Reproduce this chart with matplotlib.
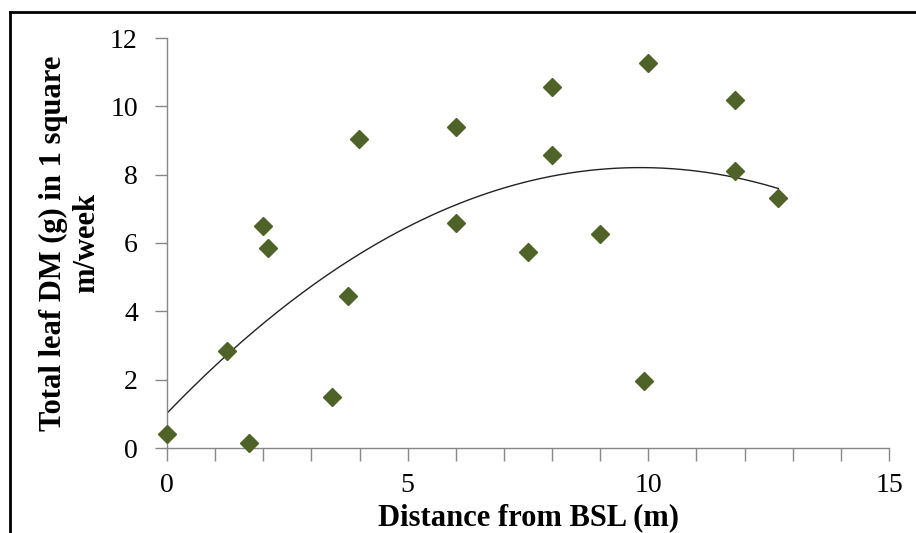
import numpy as np
import matplotlib
matplotlib.use("Agg")
import matplotlib.pyplot as plt
from matplotlib.lines import Line2D
from matplotlib.ticker import MultipleLocator


# -----------------------------
# Data
# -----------------------------
distance_m = [0.0, 1.25, 1.7, 2.0, 2.1, 3.43, 3.76, 3.99, 6.0, 6.0,
              7.5, 8.0, 8.0, 9.0, 10.0, 9.9, 11.8, 11.8, 12.7]
leaf_dm_g = [0.41, 2.84, 0.15, 6.5, 5.85, 1.49, 4.45, 9.04, 9.4, 6.58,
             5.74, 10.56, 8.57, 6.26, 11.27, 1.96, 10.18, 8.11, 7.33]

x_ticks = [0, 5, 10, 15]
y_ticks = [0, 2, 4, 6, 8, 10, 12]

THEME = {
    "marker": "#4F6228",
    "axis":   "#868686",
    "text":   "#000000",
}

plt.rcParams["font.family"] = ["Liberation Serif", "DejaVu Serif"]

fig = plt.figure(figsize=(9.16, 5.33), dpi=100)
ax = fig.add_axes([167 / 916, 1 - 448 / 533, (889 - 167) / 916, (448 - 38) / 533])

# 2nd order polynomial trendline, like Excel's
coef = np.polyfit(distance_m, leaf_dm_g, 2)
xs = np.linspace(min(distance_m), max(distance_m), 200)
ax.plot(xs, np.polyval(coef, xs), color="#222222", linewidth=1.0, zorder=2)

ax.plot(distance_m, leaf_dm_g, linestyle="none", marker="D", markersize=9,
        color=THEME["marker"], markeredgecolor=THEME["marker"], zorder=3,
        clip_on=False)

ax.set_xlim(0, 15)
ax.set_ylim(0, 12)
ax.set_xticks(x_ticks)
ax.set_yticks(y_ticks)
ax.xaxis.set_minor_locator(MultipleLocator(1))

for side in ["top", "right"]:
    ax.spines[side].set_visible(False)
for side in ["left", "bottom"]:
    ax.spines[side].set_color(THEME["axis"])
    ax.spines[side].set_linewidth(1.0)

ax.tick_params(axis="x", which="both", direction="out", length=9, width=1,
               color=THEME["axis"], labelsize=20, pad=9)
ax.tick_params(axis="y", which="both", direction="out", length=9, width=1,
               color=THEME["axis"], labelsize=20, pad=12)

fig.text(529 / 916, (533 - 525) / 533, "Distance from BSL (m)",
         ha="center", va="baseline", fontsize=22, fontweight="bold")
fig.text(70 / 916, 1 - 243 / 533, "Total leaf DM (g) in 1 square\nm/week",
         ha="center", va="center", rotation=90, fontsize=22,
         fontweight="bold", multialignment="center")

# frame lines on the top and left edges of the picture
fig.add_artist(Line2D([9.5 / 916, 1.0], [1 - 12 / 533, 1 - 12 / 533],
                      transform=fig.transFigure, color="black", linewidth=2))
fig.add_artist(Line2D([9.5 / 916, 9.5 / 916], [0.0, 1 - 12 / 533],
                      transform=fig.transFigure, color="black", linewidth=2))

fig.savefig("out.png", dpi=100)
